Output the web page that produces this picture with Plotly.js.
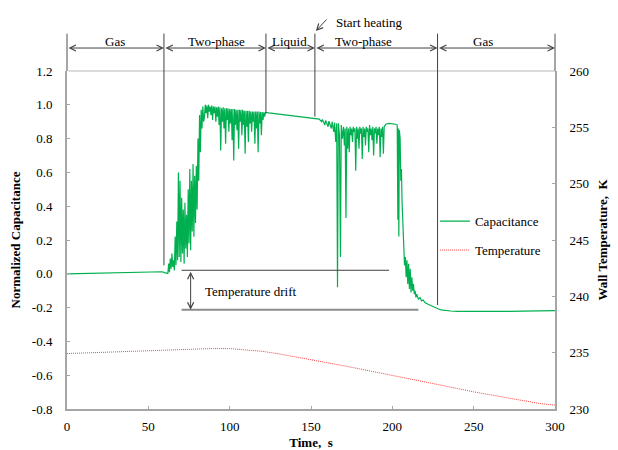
<!DOCTYPE html>
<html>
<head>
<meta charset="utf-8">
<script src="https://cdn.plot.ly/plotly-3.0.1.min.js"></script>
<style>html,body{margin:0;padding:0;background:#fff;}#chart{width:618px;height:450px;}</style>
</head>
<body>
<div id="chart"></div>
<script>
// ---- data ----
var capTime = [
0,5,10,15,20,25,30,35,40,45,50,55,57,58.5,60,61.5,62,
62.5,63,63.5,64,64.5,65,65.5,66,66.5,67,67.5,68,68.5,69,69.5,70,70.5,71,71.5,72,72.5,73,73.5,74,74.5,75,75.5,76,76.5,77,77.5,78,78.5,79,79.5,80,80.5,81,81.5,82,82.5,83,83.5,84,
84.5,85,85.5,86,86.5,87,87.5,88,88.5,89,
89.5,90,90.5,91,91.5,92,92.5,93,93.5,94,
94.5,95,95.5,96,96.5,97,97.5,98,98.5,99,
99.5,100,100.5,101,101.5,102,102.5,103,103.5,104,
104.5,105,105.5,106,106.5,107,107.5,108,108.5,109,
109.5,110,110.5,111,111.5,112,112.5,113,113.5,114,
114.5,115,115.5,116,116.5,117,117.5,118,118.5,119,
119.5,120,120.5,121,121.5,122,
124,130,136,142,148,152,155,156.5,157,158.5,159,160.5,161,162.5,163,164,164.5,165.2,165.8,166.3,166.8,167.5,168.1,168.6,169.3,170,170.5,171,171.5,172,172.5,173,
173.5,174,174.5,175,175.5,176,176.5,177,177.5,178,
178.5,179,179.5,180,180.5,181,181.5,182,182.5,183,
183.5,184,184.5,185,185.5,186,186.5,187,187.5,188,
188.5,189,189.5,190,190.5,191,191.5,192,192.5,193,
193.5,194,194.5,195,
196,198,200,202,203,203.4,203.7,204,204.3,204.8,
205.2,205.6,206,206.5,207,207.5,208,208.5,209,209.5,
210,210.5,211,211.5,212,212.5,213,213.5,214,214.5,
215,216,217,218,219,220,222,224,226,228,
230,233,236,240,250,260,270,280,290,300
];
var capValue = [
0.000,0.001,0.002,0.003,0.004,0.005,0.006,0.007,0.008,0.009,0.010,0.012,0.013,0.012,0.007,0.003,0.002,
0.06,0.01,0.09,0.03,0.12,0.04,0.08,0.02,0.22,0.05,0.31,0.08,0.60,0.10,0.55,0.07,0.45,0.12,0.38,0.06,0.42,0.15,0.35,0.10,0.50,0.18,0.62,0.14,0.55,0.25,0.65,0.22,0.58,0.30,0.64,0.38,0.80,0.55,0.94,0.72,0.97,0.86,0.99,0.90,
0.93,1.00,0.95,0.995,0.92,1.00,0.96,0.99,0.94,0.995,
0.91,0.99,0.95,0.99,0.90,0.985,0.93,0.99,0.88,0.985,
0.73,0.98,0.90,0.985,0.86,0.98,0.77,0.98,0.91,0.98,
0.84,0.975,0.89,0.975,0.79,0.975,0.67,0.975,0.88,0.97,
0.85,0.97,0.74,0.97,0.90,0.97,0.82,0.97,0.88,0.965,
0.71,0.965,0.87,0.965,0.78,0.965,0.89,0.96,0.84,0.96,
0.90,0.96,0.77,0.96,0.86,0.96,0.72,0.96,0.89,0.958,
0.82,0.957,0.91,0.956,0.93,0.955,
0.952,0.945,0.94,0.932,0.925,0.92,0.915,0.90,0.913,0.88,0.908,0.87,0.903,0.86,0.90,0.84,0.895,0.78,0.89,-0.08,0.89,0.82,0.10,0.88,0.80,0.87,0.76,0.86,0.33,0.87,0.74,0.86,
0.72,0.87,0.82,0.86,0.78,0.87,0.84,0.86,0.61,0.87,
0.80,0.86,0.74,0.87,0.83,0.86,0.68,0.87,0.81,0.86,
0.76,0.87,0.84,0.86,0.72,0.88,0.82,0.86,0.79,0.87,
0.70,0.86,0.83,0.87,0.77,0.86,0.82,0.87,0.69,0.86,
0.81,0.87,0.71,0.87,
0.885,0.89,0.888,0.885,0.88,0.32,0.86,0.22,0.85,0.80,
0.55,0.62,0.42,0.30,0.12,0.05,0.10,-0.02,0.08,-0.06,
0.06,-0.09,0.03,-0.11,-0.02,-0.10,-0.06,-0.12,-0.10,-0.14,
-0.12,-0.15,-0.14,-0.16,-0.155,-0.17,-0.18,-0.19,-0.20,-0.207,
-0.213,-0.218,-0.22,-0.222,-0.223,-0.223,-0.222,-0.221,-0.219,-0.218
];
var tempTime = [0,10,20,30,40,50,60,70,80,90,100,110,120,130,140,150,160,170,180,190,200,210,220,230,240,250,260,270,280,290,300];
var tempValue = [234.92,234.97,235.03,235.09,235.15,235.20,235.25,235.30,235.35,235.37,235.36,235.27,235.12,234.90,234.65,234.40,234.12,233.84,233.56,233.28,233.00,232.72,232.43,232.13,231.82,231.52,231.25,230.98,230.72,230.50,230.34];

var leftTickVals = [-0.8,-0.6,-0.4,-0.2,0.0,0.2,0.4,0.6,0.8,1.0,1.2];
var leftTickText = ["-0.8","-0.6","-0.4","-0.2","0.0","0.2","0.4","0.6","0.8","1.0","1.2"];
var rightTickVals = [230,235,240,245,250,255,260];
var xTickVals = [0,50,100,150,200,250,300];

var phaseNames = ["Gas","Two-phase","Liquid","Two-phase","Gas"];
var phaseBounds = [0,59.6,122.3,152.4,227.8,300];
var phaseLabelX = [29.5,91.6,137,182.5,255.7];

// ---- drawing ----
var FONT = '"Liberation Serif", serif';
var DARK = "#404040", GRAY = "#a6a6a6";
var HEAD = 1.2;

function seg(x0, y0, x1, y1, color, width, heads) {
  var a = {x: x1, y: y1, xref: 'x', yref: 'y', ax: x0, ay: y0, axref: 'x', ayref: 'y',
    text: '', showarrow: true, arrowhead: 0, arrowcolor: color, arrowwidth: width,
    standoff: 0, startstandoff: 0};
  if (heads) { a.arrowside = heads; a.arrowhead = 5; a.startarrowhead = 5; a.arrowsize = HEAD; a.startarrowsize = HEAD; }
  return a;
}
// horizontal segment above the plot (paper y)
function topSeg(x0, x1, py, color, width) {
  return {x: x1, y: py, xref: 'x', yref: 'paper', ax: x0, ay: 0, axref: 'x', ayref: 'pixel',
    text: '', showarrow: true, arrowside: 'end+start', arrowhead: 5, startarrowhead: 5,
    arrowsize: HEAD, startarrowsize: HEAD, arrowcolor: color, arrowwidth: width, standoff: 0, startstandoff: 0};
}
function label(x, y, txt, yref) {
  return {x: x, y: y, xref: 'x', yref: yref || 'y', text: txt, showarrow: false,
    font: {family: FONT, size: 13, color: '#000'}};
}

var ann = [];
var topY = 1.43, arrowPaperY = 1.068, labelPaperY = 1.1154;
// top grid line at 1.2
ann.push(seg(0, 1.2, 300, 1.2, '#d0d0d0', 1.5));
// axis extensions
ann.push(seg(0, topY, 0, 1.2, GRAY, 2));
ann.push(seg(300, topY, 300, 1.2, GRAY, 2));
// phase divider lines
var dividerBottoms = [0.05, 0.95, 0.93, -0.185];
for (var i = 1; i < phaseBounds.length - 1; i++) {
  ann.push(seg(phaseBounds[i], topY, phaseBounds[i], dividerBottoms[i - 1], DARK, 1));
}
// phase arrows and names
for (var j = 0; j < phaseNames.length; j++) {
  ann.push(topSeg(phaseBounds[j], phaseBounds[j + 1], arrowPaperY, DARK, 1));
  ann.push(label(phaseLabelX[j], labelPaperY, phaseNames[j], 'paper'));
}
// start heating
ann.push({x: 153.0, y: 1.1183, xref: 'x', yref: 'paper', ax: 160.4, ay: -13, axref: 'x', ayref: 'pixel',
  text: '', showarrow: true, arrowhead: 5, arrowsize: HEAD, arrowcolor: DARK, arrowwidth: 1, standoff: 0});
ann.push(label(186, 1.1716, 'Start heating', 'paper'));
// temperature drift
ann.push(seg(69.5, 0.021, 198, 0.021, DARK, 1));
ann.push(seg(69.5, -0.212, 216, -0.212, '#8c8c8c', 2));
ann.push(seg(76, 0.021, 76, -0.212, DARK, 1, 'end+start'));
ann.push(label(113.4, -0.106, 'Temperature drift'));

var traces = [
  {x: capTime, y: capValue, type: 'scatter', mode: 'lines', name: 'Capacitance',
   line: {color: '#00b050', width: 1.2}, legendgroup: 'a'},
  {x: tempTime, y: tempValue, type: 'scatter', mode: 'lines', name: 'Temperature', yaxis: 'y2',
   line: {color: '#ff4040', width: 1, dash: '1px,1px'}, legendgroup: 'b'}
];

var layout = {
  width: 618, height: 450,
  margin: {l: 67, r: 63, t: 71, b: 41, pad: 0},
  paper_bgcolor: '#fff', plot_bgcolor: '#fff',
  font: {family: FONT, size: 13, color: '#000'},
  showlegend: true,
  legend: {x: 0.754, y: 0.600, xanchor: 'left', yanchor: 'top', bgcolor: 'rgba(0,0,0,0)',
    traceorder: 'grouped', tracegroupgap: 9, font: {family: FONT, size: 13}},
  xaxis: {range: [0, 300], tickvals: xTickVals, showgrid: false, zeroline: false,
    showline: true, linecolor: GRAY, linewidth: 2, ticks: 'inside', ticklen: 3, tickcolor: GRAY,
    ticklabelstandoff: 4, tickfont: {family: FONT, size: 13},
    title: {text: '<b>Time,\u00a0 s</b>', font: {family: FONT, size: 13}, standoff: 5}},
  yaxis: {range: [-0.8, 1.2], tickvals: leftTickVals, ticktext: leftTickText, showgrid: false, zeroline: false,
    showline: true, linecolor: GRAY, linewidth: 2, ticks: 'inside', ticklen: 3, tickcolor: GRAY,
    ticklabelstandoff: 10, tickfont: {family: FONT, size: 13},
    title: {text: '<b>Normalized Capacitance</b>', font: {family: FONT, size: 13}, standoff: 8}},
  yaxis2: {range: [230, 260], tickvals: rightTickVals, overlaying: 'y', side: 'right', showgrid: false, zeroline: false,
    showline: true, linecolor: GRAY, linewidth: 2, ticks: 'inside', ticklen: 3, tickcolor: GRAY,
    ticklabelstandoff: 10, tickfont: {family: FONT, size: 13},
    title: {text: '<b>Wall Temperature,\u00a0 K</b>', font: {family: FONT, size: 13}, standoff: 10}},
  annotations: ann
};

Plotly.newPlot('chart', traces, layout, {displayModeBar: false, staticPlot: true});
</script>
</body>
</html>
